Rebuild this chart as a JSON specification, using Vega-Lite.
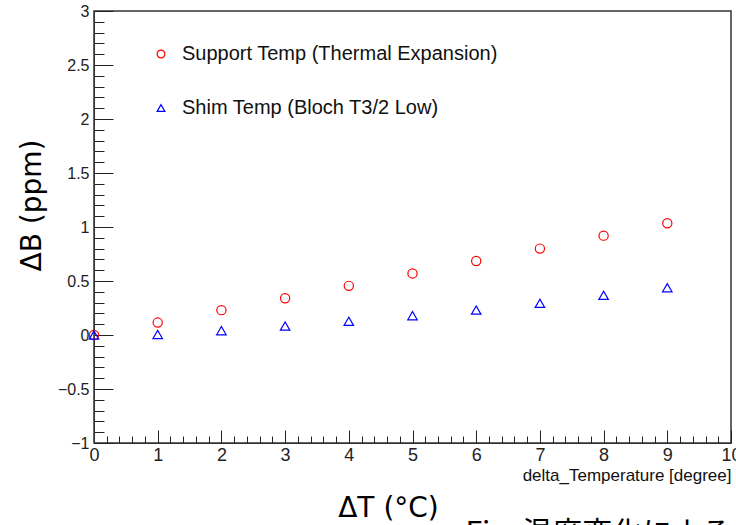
{
  "$schema": "https://vega.github.io/schema/vega-lite/v6.json",
  "width": 637,
  "height": 432,
  "autosize": "none",
  "padding": {"left": 94, "top": 11, "right": 5, "bottom": 82},
  "background": "white",
  "config": {
    "view": {"stroke": "#333", "strokeWidth": 1.5},
    "font": "Liberation Sans",
    "axis": {"grid": false}
  },
  "data": {
    "values": [
      {"series": "Support Temp (Thermal Expansion)", "dT": 0, "dB": 0},
      {"series": "Support Temp (Thermal Expansion)", "dT": 1, "dB": 0.115},
      {"series": "Support Temp (Thermal Expansion)", "dT": 2, "dB": 0.23},
      {"series": "Support Temp (Thermal Expansion)", "dT": 3, "dB": 0.34},
      {"series": "Support Temp (Thermal Expansion)", "dT": 4, "dB": 0.455},
      {"series": "Support Temp (Thermal Expansion)", "dT": 5, "dB": 0.57},
      {"series": "Support Temp (Thermal Expansion)", "dT": 6, "dB": 0.685},
      {"series": "Support Temp (Thermal Expansion)", "dT": 7, "dB": 0.8},
      {"series": "Support Temp (Thermal Expansion)", "dT": 8, "dB": 0.92},
      {"series": "Support Temp (Thermal Expansion)", "dT": 9, "dB": 1.035},
      {"series": "Shim Temp (Bloch T3/2 Low)", "dT": 0, "dB": 0},
      {"series": "Shim Temp (Bloch T3/2 Low)", "dT": 1, "dB": 0.005},
      {"series": "Shim Temp (Bloch T3/2 Low)", "dT": 2, "dB": 0.04},
      {"series": "Shim Temp (Bloch T3/2 Low)", "dT": 3, "dB": 0.083},
      {"series": "Shim Temp (Bloch T3/2 Low)", "dT": 4, "dB": 0.127},
      {"series": "Shim Temp (Bloch T3/2 Low)", "dT": 5, "dB": 0.179},
      {"series": "Shim Temp (Bloch T3/2 Low)", "dT": 6, "dB": 0.231},
      {"series": "Shim Temp (Bloch T3/2 Low)", "dT": 7, "dB": 0.293},
      {"series": "Shim Temp (Bloch T3/2 Low)", "dT": 8, "dB": 0.367},
      {"series": "Shim Temp (Bloch T3/2 Low)", "dT": 9, "dB": 0.438}
    ]
  },
  "encoding": {
    "color": {
      "field": "series",
      "type": "nominal",
      "scale": {
        "domain": ["Support Temp (Thermal Expansion)", "Shim Temp (Bloch T3/2 Low)"],
        "range": ["#ff0000", "#0000ff"]
      },
      "legend": {
        "title": null,
        "orient": "none",
        "legendX": 57,
        "legendY": 33,
        "padding": 0,
        "labelFont": "Liberation Sans",
        "labelFontSize": 20,
        "labelColor": "#111",
        "labelLimit": 0,
        "labelOffset": 11,
        "symbolSize": 60,
        "symbolStrokeWidth": 1.2,
        "rowPadding": 34
      }
    },
    "shape": {
      "field": "series",
      "type": "nominal",
      "scale": {
        "domain": ["Support Temp (Thermal Expansion)", "Shim Temp (Bloch T3/2 Low)"],
        "range": ["circle", "triangle-up"]
      }
    }
  },
  "layer": [
    {
      "transform": [{"filter": "datum.series == 'Support Temp (Thermal Expansion)'"}],
      "mark": {"type": "point", "filled": false, "size": 85, "strokeWidth": 1.2, "opacity": 1},
      "encoding": {
        "x": {
          "field": "dT",
          "type": "quantitative",
          "scale": {"domain": [0, 10], "nice": false, "zero": false},
          "axis": {
            "orient": "bottom",
            "values": [0, 0.2, 0.4, 0.6, 0.8, 1, 1.2, 1.4, 1.6, 1.8, 2, 2.2, 2.4, 2.6, 2.8, 3, 3.2, 3.4, 3.6, 3.8, 4, 4.2, 4.4, 4.6, 4.8, 5, 5.2, 5.4, 5.6, 5.8, 6, 6.2, 6.4, 6.6, 6.8, 7, 7.2, 7.4, 7.6, 7.8, 8, 8.2, 8.4, 8.6, 8.8, 9, 9.2, 9.4, 9.6, 9.8, 10],
            "format": "~g",
            "labelExpr": "abs(datum.value - round(datum.value)) < 0.001 ? datum.label : ''",
            "tickSize": {"condition": {"test": "abs(datum.value - round(datum.value)) < 0.001", "value": -13}, "value": -7},
            "tickColor": "#222",
            "tickWidth": 1,
            "labelPadding": 16,
            "labelFont": "Liberation Sans",
            "labelFontSize": 18,
            "labelColor": "#222",
            "labelFlush": false,
            "labelOverlap": false,
            "domainColor": "#333",
            "title": "delta_Temperature [degree]",
            "titleFont": "Liberation Sans",
            "titleFontSize": 17,
            "titleFontWeight": "normal",
            "titleColor": "#111",
            "titleAlign": "right",
            "titleBaseline": "alphabetic",
            "titleX": 637,
            "titleY": 37
          }
        },
        "y": {
          "field": "dB",
          "type": "quantitative",
          "scale": {"domain": [-1, 3], "nice": false, "zero": false},
          "axis": {
            "orient": "left",
            "values": [-1, -0.9, -0.8, -0.7, -0.6, -0.5, -0.4, -0.3, -0.2, -0.1, 0, 0.1, 0.2, 0.3, 0.4, 0.5, 0.6, 0.7, 0.8, 0.9, 1, 1.1, 1.2, 1.3, 1.4, 1.5, 1.6, 1.7, 1.8, 1.9, 2, 2.1, 2.2, 2.3, 2.4, 2.5, 2.6, 2.7, 2.8, 2.9, 3],
            "format": "~g",
            "labelExpr": "abs(datum.value * 2 - round(datum.value * 2)) < 0.001 ? datum.label : ''",
            "tickSize": {"condition": {"test": "abs(datum.value * 2 - round(datum.value * 2)) < 0.001", "value": -19}, "value": -10},
            "tickColor": "#222",
            "tickWidth": 1,
            "labelPadding": 24,
            "labelFont": "Liberation Sans",
            "labelFontSize": 16,
            "labelColor": "#222",
            "labelOverlap": false,
            "labelFlush": false,
            "domainColor": "#333",
            "title": "ΔB (ppm)",
            "titleFont": "DejaVu Sans",
            "titleFontSize": 28,
            "titleFontWeight": "normal",
            "titleColor": "#000",
            "titleAngle": -90,
            "titleAlign": "center",
            "titleBaseline": "alphabetic",
            "titleX": -54,
            "titleY": 194
          }
        }
      }
    },
    {
      "transform": [{"filter": "datum.series == 'Shim Temp (Bloch T3/2 Low)'"}],
      "mark": {"type": "point", "filled": false, "size": 90, "strokeWidth": 1.2, "opacity": 1},
      "encoding": {
        "x": {
          "field": "dT",
          "type": "quantitative",
          "scale": {"domain": [0, 10], "nice": false, "zero": false},
          "axis": {
            "orient": "top",
            "domain": false,
            "ticks": false,
            "labels": false,
            "title": "ΔT (°C)",
            "titleFont": "DejaVu Sans",
            "titleFontSize": 28,
            "titleFontWeight": "normal",
            "titleColor": "#000",
            "titleAngle": 0,
            "titleAlign": "center",
            "titleBaseline": "alphabetic",
            "titleX": 294,
            "titleY": 505
          }
        },
        "y": {
          "field": "dB",
          "type": "quantitative",
          "scale": {"domain": [-1, 3], "nice": false, "zero": false},
          "axis": {
            "orient": "right",
            "domain": false,
            "ticks": false,
            "labels": false,
            "title": "Fig. 温度変化による",
            "titleFont": "Noto Sans CJK JP",
            "titleFontSize": 30,
            "titleFontWeight": "normal",
            "titleColor": "#000",
            "titleAngle": 0,
            "titleAlign": "left",
            "titleBaseline": "alphabetic",
            "titleX": -266,
            "titleY": 531
          }
        }
      }
    }
  ],
  "resolve": {"axis": {"x": "independent", "y": "independent"}}
}
